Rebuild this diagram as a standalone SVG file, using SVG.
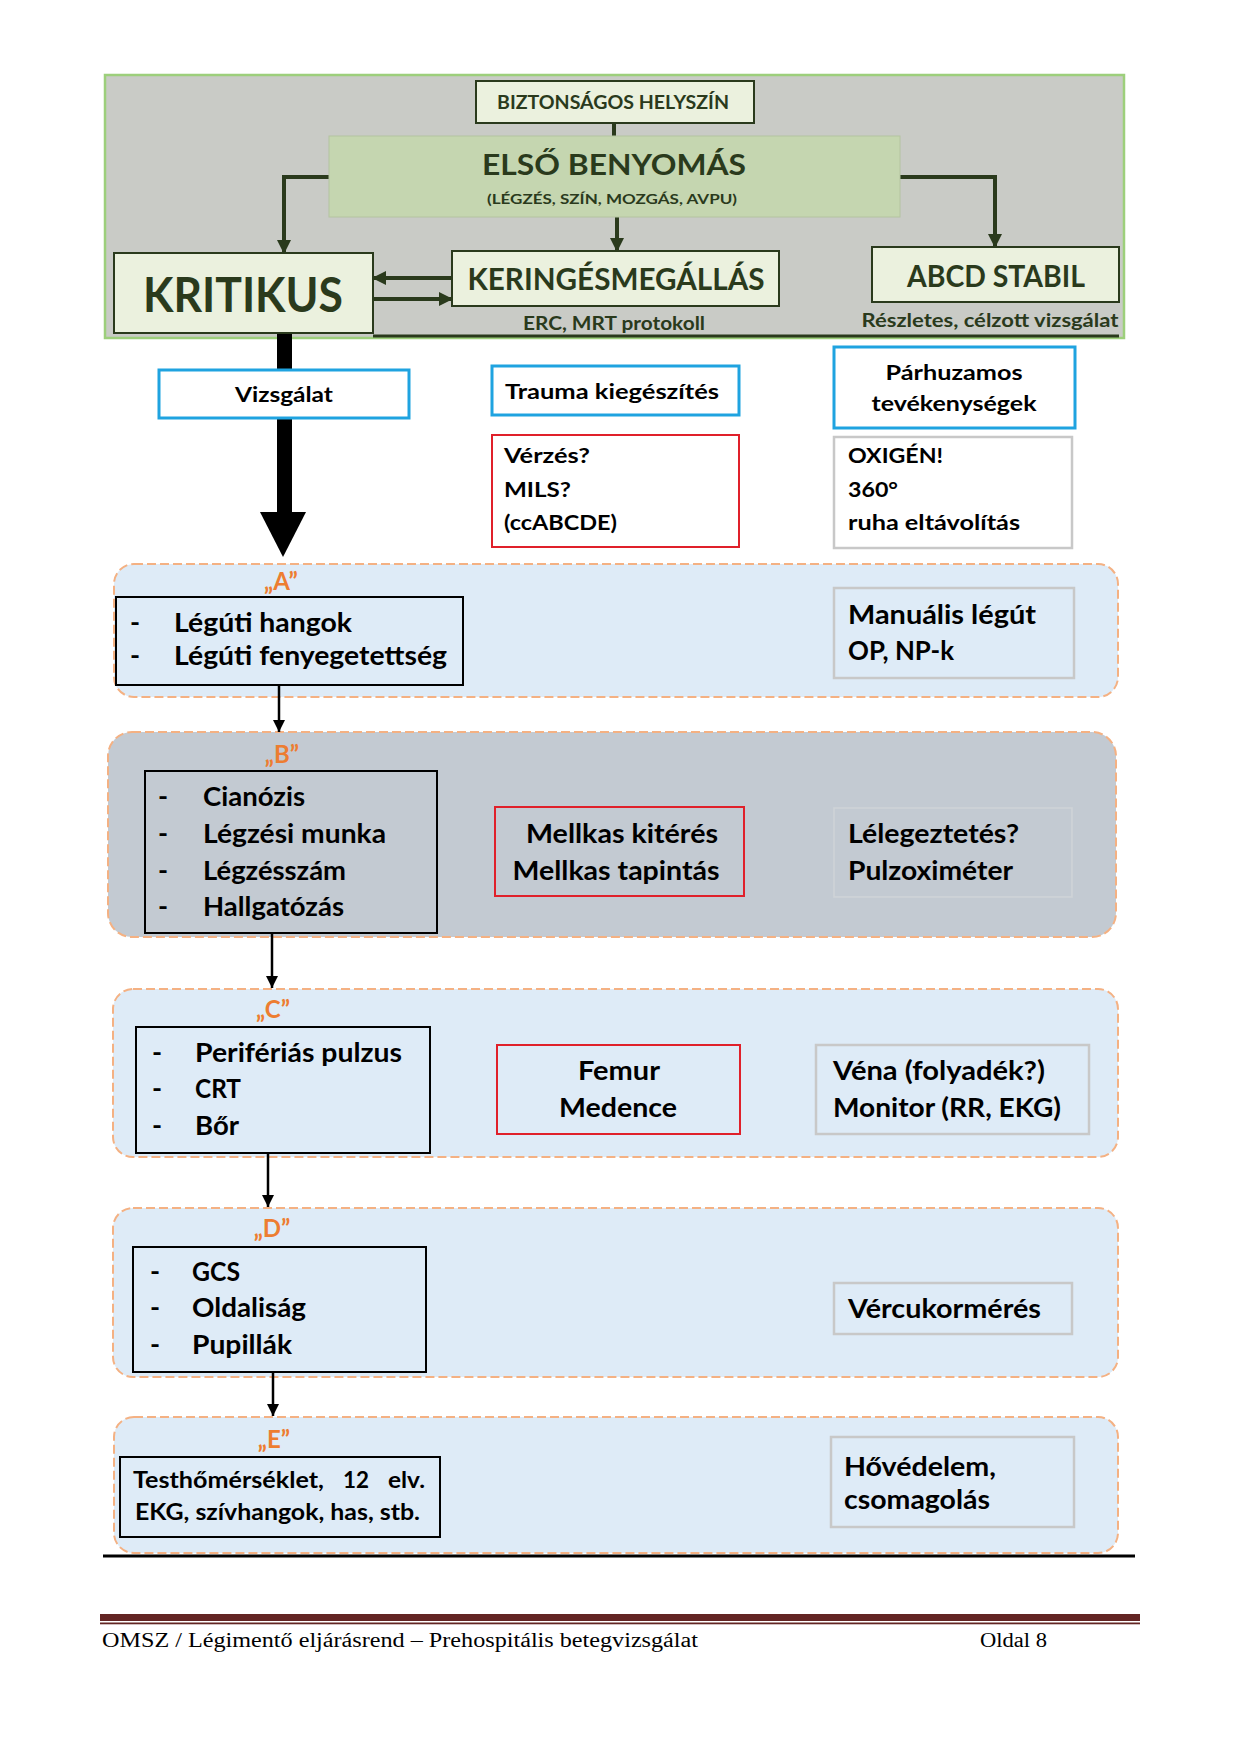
<svg xmlns="http://www.w3.org/2000/svg" width="1240" height="1754" viewBox="0 0 1240 1754">
<style>
text{font-family:Lato,"Liberation Sans","DejaVu Sans",sans-serif;font-weight:bold;fill:#000}
.g{fill:#2a3a1c}
.lbl{fill:#ed7d31;font-size:24px;text-anchor:middle}
.body{font-size:27px}
.sm{font-size:21px}
.mid{text-anchor:middle}
.sec{fill:#deebf7;stroke:#f4b183;stroke-width:2;stroke-dasharray:9 4}
.secg{fill:#c3cad2;stroke:#f4b183;stroke-width:2;stroke-dasharray:9 4}
.blk{fill:none;stroke:#000;stroke-width:2}
.blue{fill:#fff;stroke:#1fa3e0;stroke-width:3}
.red{fill:none;stroke:#e0202a;stroke-width:2}
.gray{fill:none;stroke:#c8c8c8;stroke-width:2.5}
.tn{fill:#ebf1de;stroke:#2a3a1c;stroke-width:2}
.gc{fill:none;stroke:#2a3a1c;stroke-width:4}
.bc{fill:none;stroke:#000;stroke-width:2.5}
.foot{font-family:"Liberation Serif","DejaVu Serif",serif;font-weight:normal;font-size:20px}
</style>
<defs>
<marker id="ag" markerUnits="userSpaceOnUse" markerWidth="14" markerHeight="14" refX="13" refY="7" orient="auto"><path d="M0,0 L14,7 L0,14 z" fill="#2a3a1c"/></marker>
<marker id="ab" markerUnits="userSpaceOnUse" markerWidth="12" markerHeight="12" refX="12" refY="6" orient="auto"><path d="M0,0 L12,6 L0,12 z" fill="#000"/></marker>
</defs>
<rect width="1240" height="1754" fill="#fff"/>

<g id="top-panel">
<rect x="105" y="75" width="1019" height="263" fill="#c9cbc6" stroke="#9dcf7b" stroke-width="2.5"/>
<line x1="373" y1="336" x2="1119" y2="336" stroke="#2a3a1c" stroke-width="3"/>
</g>

<g id="sec-A"><rect class="sec" x="114" y="564" width="1004" height="133" rx="20"/></g>
<g id="sec-B"><rect class="secg" x="108" y="732" width="1008" height="205" rx="24"/></g>
<g id="sec-C"><rect class="sec" x="113" y="989" width="1005" height="168" rx="20"/></g>
<g id="sec-D"><rect class="sec" x="113" y="1208" width="1005" height="169" rx="20"/></g>
<g id="sec-E"><rect class="sec" x="114" y="1417" width="1004" height="136" rx="20"/></g>

<g id="connectors">
<line x1="614" y1="123" x2="614" y2="136" stroke="#2a3a1c" stroke-width="4"/>
<path class="gc" d="M329,177 H284 V253" marker-end="url(#ag)"/>
<path class="gc" d="M900,177 H995 V247" marker-end="url(#ag)"/>
<path class="gc" d="M617,217 V251" marker-end="url(#ag)"/>
<path class="gc" d="M452,278 H373" marker-end="url(#ag)"/>
<path class="gc" d="M373,299 H452" marker-end="url(#ag)"/>
<rect x="277" y="333" width="15" height="181" fill="#000"/>
<polygon points="260,512 306,512 283,557" fill="#000"/>
<path class="bc" d="M279,686 V732" marker-end="url(#ab)"/>
<path class="bc" d="M272,933 V988" marker-end="url(#ab)"/>
<path class="bc" d="M268,1153 V1207" marker-end="url(#ab)"/>
<path class="bc" d="M273,1372 V1416" marker-end="url(#ab)"/>
</g>

<g id="biztonsagos">
<rect class="tn" x="476" y="81" width="278" height="42"/>
<text class="g mid" x="613" y="109" font-size="18" textLength="232" lengthAdjust="spacingAndGlyphs">BIZTONSÁGOS HELYSZÍN</text>
</g>
<g id="elso-benyomas">
<rect x="329" y="136" width="571" height="81" fill="#c5d6b0" stroke="#b4c4a0" stroke-width="1"/>
<text class="g mid" x="614" y="175" font-size="28" textLength="264" lengthAdjust="spacingAndGlyphs">ELSŐ BENYOMÁS</text>
<text class="g mid" x="612" y="204" font-size="14" textLength="250" lengthAdjust="spacingAndGlyphs">(LÉGZÉS, SZÍN, MOZGÁS, AVPU)</text>
</g>
<g id="kritikus">
<rect class="tn" x="114" y="253" width="259" height="80"/>
<text class="g mid" x="243" y="312" font-size="48" textLength="200" lengthAdjust="spacingAndGlyphs">KRITIKUS</text>
</g>
<g id="keringesmegallas">
<rect class="tn" x="452" y="251" width="327" height="55"/>
<text class="g mid" x="616" y="290" font-size="30" textLength="297" lengthAdjust="spacingAndGlyphs">KERINGÉSMEGÁLLÁS</text>
<text class="g mid" x="614" y="330" font-size="18" textLength="182" lengthAdjust="spacingAndGlyphs">ERC, MRT protokoll</text>
</g>
<g id="abcd-stabil">
<rect class="tn" x="872" y="247" width="247" height="55"/>
<text class="g mid" x="996" y="287" font-size="30" textLength="178" lengthAdjust="spacingAndGlyphs">ABCD STABIL</text>
<text class="g mid" x="990" y="327" font-size="18" textLength="257" lengthAdjust="spacingAndGlyphs">Részletes, célzott vizsgálat</text>
</g>

<g id="vizsgalat">
<rect class="blue" x="159" y="370" width="250" height="48"/>
<text class="sm mid" x="284" y="402" textLength="98" lengthAdjust="spacingAndGlyphs">Vizsgálat</text>
</g>
<g id="trauma">
<rect class="blue" x="492" y="366" width="247" height="49"/>
<text class="sm mid" x="612" y="399" textLength="214" lengthAdjust="spacingAndGlyphs">Trauma kiegészítés</text>
</g>
<g id="parhuzamos">
<rect class="blue" x="834" y="347" width="241" height="81"/>
<text class="sm mid" x="954" y="380" textLength="137" lengthAdjust="spacingAndGlyphs">Párhuzamos</text>
<text class="sm mid" x="954" y="411" textLength="165" lengthAdjust="spacingAndGlyphs">tevékenységek</text>
</g>
<g id="verzes">
<rect class="red" x="492" y="435" width="247" height="112"/>
<text class="sm" x="504" y="463" textLength="86" lengthAdjust="spacingAndGlyphs">Vérzés?</text>
<text class="sm" x="504" y="497" textLength="67" lengthAdjust="spacingAndGlyphs">MILS?</text>
<text class="sm" x="504" y="530" textLength="113" lengthAdjust="spacingAndGlyphs">(ccABCDE)</text>
</g>
<g id="oxigen">
<rect x="834" y="437" width="238" height="111" fill="#fff" stroke="#c8c8c8" stroke-width="2.5"/>
<text class="sm" x="848" y="463" textLength="95" lengthAdjust="spacingAndGlyphs">OXIGÉN!</text>
<text class="sm" x="848" y="497" textLength="50" lengthAdjust="spacingAndGlyphs">360°</text>
<text class="sm" x="848" y="530" textLength="172" lengthAdjust="spacingAndGlyphs">ruha eltávolítás</text>
</g>

<g id="A-label"><text class="lbl" x="281" y="590">„A”</text></g>
<g id="A-box">
<rect class="blk" x="116" y="597" width="347" height="88"/>
<text class="body" x="130" y="632">-</text>
<text class="body" x="174" y="632" textLength="178" lengthAdjust="spacingAndGlyphs">Légúti hangok</text>
<text class="body" x="130" y="665">-</text>
<text class="body" x="174" y="665" textLength="273" lengthAdjust="spacingAndGlyphs">Légúti fenyegetettség</text>
</g>
<g id="A-right">
<rect class="gray" x="834" y="588" width="240" height="90"/>
<text class="body" x="848" y="624" textLength="188" lengthAdjust="spacingAndGlyphs">Manuális légút</text>
<text class="body" x="848" y="660" textLength="106" lengthAdjust="spacingAndGlyphs">OP, NP-k</text>
</g>

<g id="B-label"><text class="lbl" x="282" y="763">„B”</text></g>
<g id="B-box">
<rect class="blk" x="145" y="771" width="292" height="162"/>
<text class="body" x="158" y="806">-</text>
<text class="body" x="203" y="806" textLength="102" lengthAdjust="spacingAndGlyphs">Cianózis</text>
<text class="body" x="158" y="843">-</text>
<text class="body" x="203" y="843" textLength="183" lengthAdjust="spacingAndGlyphs">Légzési munka</text>
<text class="body" x="158" y="880">-</text>
<text class="body" x="203" y="880" textLength="143" lengthAdjust="spacingAndGlyphs">Légzésszám</text>
<text class="body" x="158" y="916">-</text>
<text class="body" x="203" y="916" textLength="141" lengthAdjust="spacingAndGlyphs">Hallgatózás</text>
</g>
<g id="B-mid">
<rect class="red" x="495" y="807" width="249" height="89"/>
<text class="body mid" x="622" y="843" textLength="192" lengthAdjust="spacingAndGlyphs">Mellkas kitérés</text>
<text class="body mid" x="616" y="880" textLength="207" lengthAdjust="spacingAndGlyphs">Mellkas tapintás</text>
</g>
<g id="B-right">
<rect x="834" y="808" width="238" height="89" fill="none" stroke="#d0d4d8" stroke-width="1.5"/>
<text class="body" x="848" y="843" textLength="171" lengthAdjust="spacingAndGlyphs">Lélegeztetés?</text>
<text class="body" x="848" y="880" textLength="165" lengthAdjust="spacingAndGlyphs">Pulzoximéter</text>
</g>

<g id="C-label"><text class="lbl" x="273" y="1018">„C”</text></g>
<g id="C-box">
<rect class="blk" x="136" y="1027" width="294" height="126"/>
<text class="body" x="152" y="1062">-</text>
<text class="body" x="195" y="1062" textLength="207" lengthAdjust="spacingAndGlyphs">Perifériás pulzus</text>
<text class="body" x="152" y="1098">-</text>
<text class="body" x="195" y="1098" textLength="46" lengthAdjust="spacingAndGlyphs">CRT</text>
<text class="body" x="152" y="1135">-</text>
<text class="body" x="195" y="1135" textLength="44" lengthAdjust="spacingAndGlyphs">Bőr</text>
</g>
<g id="C-mid">
<rect class="red" x="497" y="1045" width="243" height="89"/>
<text class="body mid" x="619" y="1080" textLength="82" lengthAdjust="spacingAndGlyphs">Femur</text>
<text class="body mid" x="618" y="1117" textLength="118" lengthAdjust="spacingAndGlyphs">Medence</text>
</g>
<g id="C-right">
<rect class="gray" x="816" y="1045" width="273" height="89"/>
<text class="body" x="833" y="1080" textLength="212" lengthAdjust="spacingAndGlyphs">Véna (folyadék?)</text>
<text class="body" x="833" y="1117" textLength="228" lengthAdjust="spacingAndGlyphs">Monitor (RR, EKG)</text>
</g>

<g id="D-label"><text class="lbl" x="272" y="1237">„D”</text></g>
<g id="D-box">
<rect class="blk" x="133" y="1247" width="293" height="125"/>
<text class="body" x="150" y="1281">-</text>
<text class="body" x="192" y="1281" textLength="48" lengthAdjust="spacingAndGlyphs">GCS</text>
<text class="body" x="150" y="1317">-</text>
<text class="body" x="192" y="1317" textLength="114" lengthAdjust="spacingAndGlyphs">Oldaliság</text>
<text class="body" x="150" y="1354">-</text>
<text class="body" x="192" y="1354" textLength="100" lengthAdjust="spacingAndGlyphs">Pupillák</text>
</g>
<g id="D-right">
<rect class="gray" x="834" y="1283" width="238" height="51"/>
<text class="body" x="848" y="1318" textLength="193" lengthAdjust="spacingAndGlyphs">Vércukormérés</text>
</g>

<g id="E-label"><text class="lbl" x="274" y="1448">„E”</text></g>
<g id="E-box">
<rect class="blk" x="120" y="1457" width="320" height="80"/>
<text x="133" y="1488" font-size="23" textLength="191" lengthAdjust="spacingAndGlyphs">Testhőmérséklet,</text>
<text x="343" y="1488" font-size="23" textLength="26" lengthAdjust="spacingAndGlyphs">12</text>
<text x="388" y="1488" font-size="23" textLength="37" lengthAdjust="spacingAndGlyphs">elv.</text>
<text x="135" y="1520" font-size="23" textLength="285" lengthAdjust="spacingAndGlyphs">EKG, szívhangok, has, stb.</text>
</g>
<g id="E-right">
<rect class="gray" x="831" y="1437" width="243" height="90"/>
<text class="body" x="844" y="1476" textLength="152" lengthAdjust="spacingAndGlyphs">Hővédelem,</text>
<text class="body" x="844" y="1509" textLength="146" lengthAdjust="spacingAndGlyphs">csomagolás</text>
</g>

<g id="footer">
<line x1="103" y1="1556" x2="1135" y2="1556" stroke="#000" stroke-width="3"/>
<rect x="100" y="1614" width="1040" height="7" fill="#632523"/>
<rect x="100" y="1622.5" width="1040" height="1.8" fill="#632523"/>
<text class="foot" x="102" y="1647" textLength="596" lengthAdjust="spacingAndGlyphs">OMSZ / Légimentő eljárásrend – Prehospitális betegvizsgálat</text>
<text class="foot" x="980" y="1647" textLength="67" lengthAdjust="spacingAndGlyphs">Oldal 8</text>
</g>
</svg>
